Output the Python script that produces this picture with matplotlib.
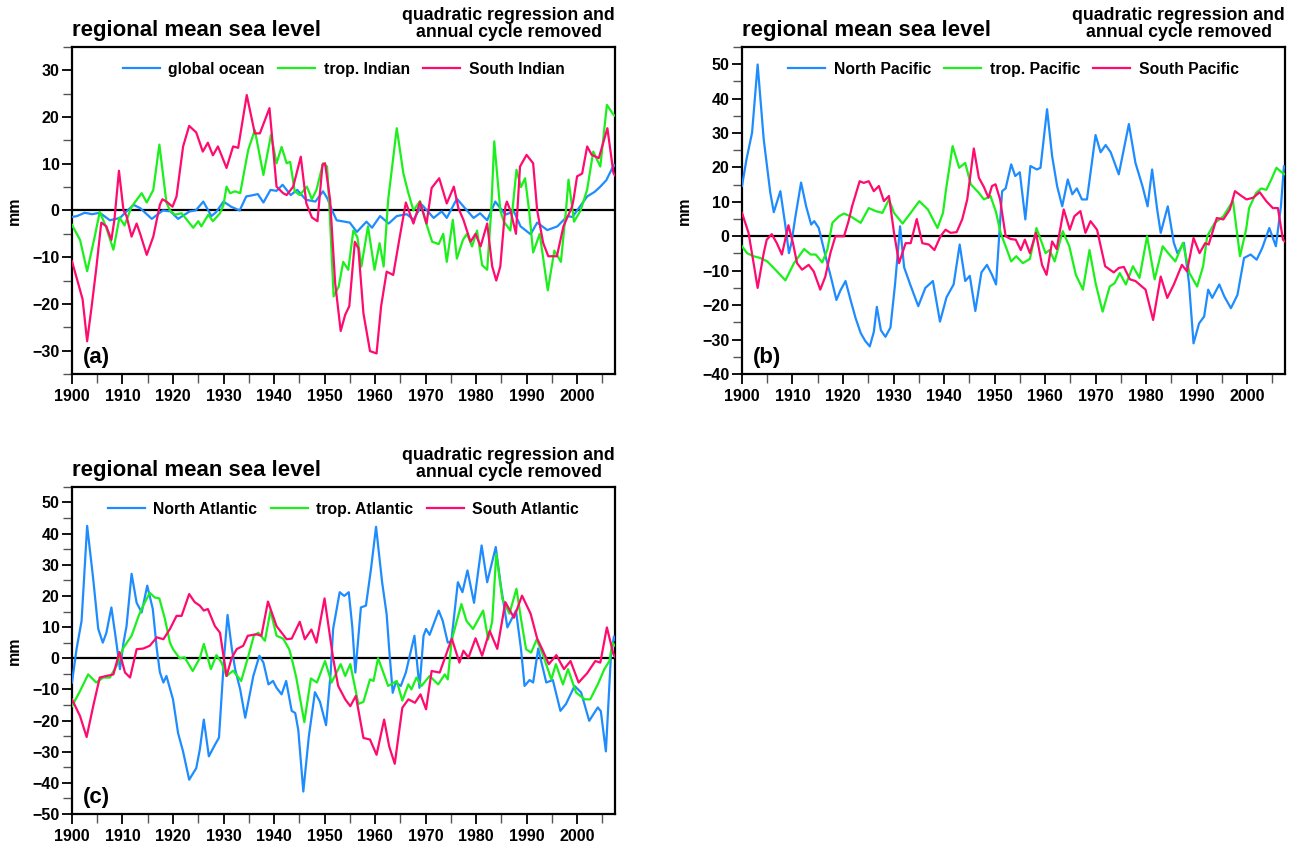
import matplotlib
matplotlib.use("Agg")
import matplotlib.pyplot as plt
from matplotlib.ticker import MultipleLocator

plt.rcParams["font.family"] = ["Liberation Sans", "DejaVu Sans"]
plt.rcParams["font.weight"] = "bold"

BLUE = "#1e8cff"
GREEN = "#1cf01c"
PINK = "#ff0a6e"

# ---------------------------------------------------------------- (a) Indian
ind_global_yr = [1900, 1901, 1902.5, 1904, 1905.5, 1907.5, 1909.5, 1911, 1912.2, 1913.5, 1915.8, 1918, 1919.5,
                 1921, 1923.3, 1924.5, 1926, 1927.6, 1928.5, 1930, 1931.5, 1933.2, 1934.5, 1935.5, 1936.8,
                 1937.9, 1939.3, 1940.5, 1941.7, 1943.3, 1944.6, 1946.3, 1948.2, 1949.7, 1950.6, 1951.5,
                 1952.4, 1955, 1956.4, 1958.3, 1959.4, 1961, 1962.7, 1964.3, 1966.3, 1967.6, 1969.3, 1971.6,
                 1973.2, 1974.2, 1976.2, 1977.8, 1979.5, 1980.8, 1982.2, 1983.8, 1985.8, 1987.5, 1988.8,
                 1990.8, 1992.1, 1994.1, 1996.1, 1998.1, 1999.1, 2000, 2002, 2003.5, 2004.6, 2005.8, 2007.3,
                 2007.5]
ind_global_mm = [-1.4, -1.2, -0.5, -0.8, -0.5, -2.1, -1.6, 0, 1.2, 0.5, -1.8, 0, -0.2,
                 -1.8, -0.2, 0, 1.9, -1.2, -0.4, 1.9, 0.8, 0, 3.0, 3.2, 3.5,
                 1.7, 4.4, 4.2, 5.5, 3.3, 4.4, 2.3, 1.9, 4.1, 2.5, 0,
                 -2.1, -2.6, -4.6, -2.4, -3.7, -1.2, -2.8, -1.2, -0.8, -2.0, 1.2, -1.6,
                 -0.2, -1.6, 2.5, 0.5, -1.6, -0.6, -2.1, 1.9, -0.9, -0.2, -3.4,
                 -5.1, -2.6, -4.2, -3.4, -1.2, -1.4, 0, 3.0, 4.0, 5.1, 6.5, 9.8,
                 9.5]

ind_trop_yr = [1900, 1901.6, 1903, 1904.5, 1905.5, 1906.7, 1908.2, 1909.4, 1910.4, 1911.8, 1913.8, 1914.8,
               1916.1, 1917.3, 1918.7, 1919.4, 1920.4, 1921.7, 1924, 1925, 1925.6, 1927, 1927.9, 1929.3,
               1930, 1930.6, 1931.3, 1932.3, 1933.3, 1934.9, 1936.2, 1937.9, 1939.4, 1940.5, 1941.5,
               1942.5, 1943.2, 1944.1, 1945.1, 1946.5, 1947.5, 1948.4, 1949.7, 1950.5, 1950.9, 1951.8,
               1952.8, 1953.7, 1954.7, 1955.7, 1956.5, 1957.3, 1958.6, 1959.9, 1960.9, 1961.7, 1962.6,
               1964.3, 1965.6, 1966.6, 1967.6, 1968.9, 1969.9, 1971.3, 1972.6, 1973.5, 1974.2, 1975.4,
               1976.2, 1977.4, 1978.2, 1979.2, 1980.2, 1981.2, 1982.2, 1983.0, 1983.6, 1984.8, 1985.5,
               1986.8, 1988.0, 1988.9, 1989.7, 1990.5, 1991.3, 1992.6, 1994.2, 1995.5, 1996.8, 1997.8,
               1998.3, 1999.4, 2000.7, 2002, 2003.2, 2004.6, 2005.9, 2007.2, 2007.5]
ind_trop_mm = [-3.1, -6.3, -13, -5.6, -0.3, -3.4, -8.4, -1.5, -3.2, 0.8, 3.7, 1.7,
               4.4, 14.1, 1.7, 0, -0.9, -0.6, -3.7, -2.3, -3.4, -0.9, -2.3, -0.6,
               1.2, 5.1, 3.7, 4.1, 3.7, 13, 17.2, 7.6, 16.2, 10.1, 13.6,
               10.1, 10.4, 4.1, 3.3, 5.1, 2.4, 4.4, 10.1, 9.4, 2.3, -18.4,
               -16.3, -11, -12.7, -4.3, -5.7, -12, -3.4, -12.7, -7, -12, 2.3,
               17.6, 8, 3.7, 0, 2.0, -2, -6.7, -7.2, -5, -11, -2,
               -10.3, -6.3, -5, -7.7, -4.3, -11.7, -12.7, 0, 14.8, 0, -2.4,
               -4.3, 8.7, 5.0, 6.9, 0, -9, -5, -17.1, -8.6, -11, 0,
               6.6, -2.4, 0, 4.5, 12.6, 9.4, 22.6, 20.5, 20.3]

ind_south_yr = [1900, 1901.2, 1902.1, 1903, 1903.9, 1904.8, 1905.8, 1906.8, 1907.8, 1908.4, 1909.3, 1910.2,
                1910.8, 1911.8, 1912.8, 1913.5, 1914.8, 1916.1, 1917.4, 1917.9, 1918.7, 1919.9, 1920.7,
                1922, 1923.2, 1924.6, 1925.9, 1926.9, 1927.9, 1928.9, 1930.6, 1931.9, 1932.9, 1934.6,
                1936.2, 1937.2, 1939.1, 1940.5, 1941.8, 1942.5, 1943.8, 1945.3, 1946.4, 1947.5, 1948.6,
                1949.6, 1950.1, 1951.1, 1952.1, 1953.2, 1954.1, 1954.9, 1956, 1956.7, 1957.7, 1959,
                1960.3, 1961.2, 1962.3, 1963.6, 1964.9, 1966.1, 1967.6, 1968.9, 1970.2, 1971.2, 1972.7,
                1974.2, 1975.6, 1976.5, 1977.5, 1978.9, 1979.9, 1980.9, 1982.2, 1983.2, 1984.0, 1984.8,
                1985.8, 1986.1, 1986.8, 1987.9, 1988.7, 1990, 1991.3, 1992.1, 1993.3, 1994.3, 1996,
                1997.3, 1999, 1999.3, 2000, 2001, 2002, 2002.9, 2004.3, 2006, 2007.2, 2007.5]
ind_south_mm = [-10.9, -15.5, -19, -28, -20.5, -12.5, -2.6, -3.4, -6.3, -2, 8.5, 0,
                -1.2, -5.6, -2.8, -5, -9.5, -5.6, 1.2, 2.4, 1.9, 0.8, 3.0,
                13.7, 18.1, 16.7, 12.6, 14.5, 11.8, 13.7, 9.1, 13.7, 13.4, 24.7,
                16.5, 16.5, 21.9, 5.1, 3.7, 3.3, 5.1, 11.5, 1.5, -1.5, -2.3,
                9.8, 10.1, 2.3, -15.5, -25.8, -22.3, -20.5, -6.7, -8.1, -22, -30.1,
                -30.6, -20.5, -13.1, -13.8, -5.6, 1.7, -2.8, 1.8, -2.8, 4.8, 6.9,
                1.5, 5.1, 0.5, -2, -6.7, -5, -7.7, -2.8, -12, -15, -12,
                0.8, 1.9, 0, -5, 9.4, 11.9, 10.1, 0, -7, -9.8, -9.8,
                -3.4, 0.8, 2.4, 7.3, 7.9, 13.7, 11.9, 11.2, 17.6, 8, 7.5]

# --------------------------------------------------------------- (b) Pacific
pac_north_yr = [1900, 1900.9, 1902, 1903.1, 1904.3, 1905.6, 1906.3, 1907.6, 1908.6, 1909.3, 1909.8, 1910.5,
                1911.7, 1912.7, 1913.7, 1914.3, 1915.2, 1916.5, 1917.8, 1918.7, 1919.5, 1920.5, 1921.5,
                1922.5, 1923.5, 1924.4, 1925.3, 1926.1, 1926.7, 1927.5, 1928.4, 1929.4, 1930.3, 1931.3,
                1932.1, 1933.3, 1934.9, 1936.3, 1937.8, 1939.2, 1940.5, 1941.9, 1943.1, 1944.2, 1945.1,
                1946.2, 1947.4, 1948.5, 1949.5, 1950.3, 1951.5, 1952.2, 1953.3, 1954.1, 1955, 1956.1,
                1957.1, 1958.4, 1959.1, 1960.4, 1961.4, 1962.4, 1963.4, 1964.5, 1965.4, 1966.3, 1967.3,
                1968.3, 1970, 1971, 1972, 1973, 1974.6, 1976.6, 1977.9, 1979.3, 1980.3, 1981.2, 1982.2,
                1982.9, 1984.3, 1985.5, 1986.2, 1987.5, 1988.5, 1989.4, 1990.5, 1991.5, 1992.3, 1993.1,
                1994.5, 1995.5, 1996.8, 1998.1, 1999.4, 2000.7, 2001.9, 2003, 2004.4, 2005.7, 2006.7,
                2007.3, 2007.5]
pac_north_mm = [14.6, 22.4, 30.1, 49.9, 28.2, 12.7, 7.0, 13.1, 3, -4.9, -1.9, 5,
                15.6, 8.7, 3.4, 4.4, 2.4, -5.5, -13, -18.5, -15.7, -13, -18.5,
                -23.8, -28.1, -30.4, -32, -27.8, -20.5, -27.3, -29.2, -26.5, -14, 2.9,
                -9, -14, -20.3, -15, -13, -24.8, -17.7, -14, -2.4, -13, -11.5,
                -21.7, -10.5, -8.3, -11.2, -14, 13.1, 13.9, 20.9, 17.5, 18.6, 4.9,
                20.4, 19.4, 19.9, 36.9, 23.3, 14.5, 8.7, 16.5, 12.2, 13.9, 10.7,
                10.7, 29.4, 24.4, 26.5, 24.4, 18, 32.6, 21.3, 14.5, 8.7, 19.4, 7.8,
                1, 8.7, -1.9, -4.9, -1.9, -13.6, -31.1, -25.3, -23.3, -15.5, -17.9,
                -14, -17.5, -20.9, -17, -6.3, -5.3, -6.8, -3.4, 2.4, -2.9, 8.7,
                20.4, 20]

pac_trop_yr = [1900, 1901, 1902.3, 1903.6, 1905, 1906.6, 1908.6, 1910.3, 1912.3, 1913.6, 1914.6, 1915.9,
               1916.9, 1917.9, 1919.2, 1920.2, 1921.5, 1923.5, 1925.1, 1926.5, 1927.8, 1929.1, 1930.1,
               1931.8, 1933.4, 1935.1, 1936.8, 1938.7, 1939.8, 1940.4, 1941.7, 1943, 1944.2, 1945.3,
               1946.9, 1947.9, 1949.2, 1950.3, 1951.2, 1952.2, 1953.3, 1954.3, 1955.6, 1957, 1958.3,
               1960.1, 1960.9, 1961.9, 1963.5, 1964.8, 1966.1, 1967.5, 1968.8, 1970, 1971.4, 1972.8,
               1973.8, 1974.8, 1976, 1977.4, 1978.7, 1980.2, 1981.7, 1983.3, 1984.6, 1985.8, 1987.3,
               1988.6, 1990.1, 1991.3, 1992.1, 1993.6, 1995.3, 1997.2, 1998.6, 1999.8, 2000.4, 2001.8,
               2002.8, 2003.8, 2004.8, 2005.8, 2007, 2007.5]
pac_trop_mm = [-2.9, -4.9, -5.8, -6.3, -7.3, -9.7, -12.8, -7.8, -3.7, -5.3, -5.3, -7.6,
               -3.9, 3.9, 5.8, 6.6, 5.8, 3.9, 8.2, 7.3, 6.8, 10.7, 6.8,
               3.7, 6.8, 10.2, 7.8, 2.4, 6.8, 13.6, 26.2, 19.9, 21.3, 15.1,
               12.6, 10.7, 11.7, 7, 1, -2.9, -7.3, -5.8, -7.8, -6.6, 2.4,
               -4.9, -4, -7.3, 1.5, -2.9, -11.2, -15.5, -4, -13.6, -21.9, -14.6,
               -13.6, -10.7, -14, -8.7, -12.1, 0, -12.5, -2.9, -5.3, -7.3, -1.9,
               -10.7, -14.6, -8.7, 0, 3.9, 5.8, 10.3, -5.8, 1.9, 8.2, 12.6,
               13.9, 13.5, 16.5, 19.9, 18.4, 18]

pac_south_yr = [1900, 1901.3, 1902.3, 1903.1, 1904.3, 1904.9, 1905.9, 1906.9, 1907.9, 1909.2, 1910.1, 1910.9,
                1911.9, 1913.2, 1914.2, 1915.5, 1916.5, 1917.5, 1918.5, 1920.2, 1921.1, 1921.8, 1923.3,
                1924.1, 1925.1, 1926.1, 1927.1, 1928.1, 1929.1, 1930.1, 1931.1, 1932.4, 1933.4, 1934.6,
                1935.7, 1937, 1938.1, 1939.3, 1940.3, 1941.3, 1942.5, 1943.6, 1944.6, 1945.9, 1946.9,
                1947.9, 1948.8, 1949.5, 1950.2, 1951.1, 1952.2, 1953.2, 1954.2, 1955.2, 1956, 1957,
                1958.2, 1959.4, 1960.3, 1961.4, 1962.3, 1963.7, 1964.9, 1965.8, 1967, 1968, 1969, 1970.3,
                1971.9, 1973.6, 1974.6, 1975.6, 1976.8, 1977.9, 1979.9, 1981.4, 1982.9, 1984.2, 1985.5,
                1987.1, 1988.1, 1989.4, 1990.6, 1991.7, 1992.4, 1994, 1995.3, 1996.6, 1997.6, 1998.9,
                1999.9, 2001.2, 2002.5, 2003.8, 2005.1, 2006.1, 2007.1, 2007.5]
pac_south_mm = [6.8, 1, -7.8, -15, -4.9, -1, 0.6, -2, -5.3, 3.2, -2, -7.8,
                -9.7, -8.3, -10.2, -15.5, -11.7, -4.9, 0, 0, 4.4, 8.7, 16,
                15.5, 16, 13.1, 14.6, 10.2, 11.7, 1, -7.8, -2, -2, 5,
                -2, -2.4, -4, 0, 1.9, 1, 1.2, 4.9, 10.7, 25.5, 17,
                14.3, 11.2, 14.6, 15.1, 10.7, 0, -0.8, -1, -4, -1, -4.9,
                1, -8.3, -11.2, -1.5, -3.7, 7.8, 1.9, 5.8, 7.3, 1, 4.4, 1.9,
                -8.7, -10.5, -9.2, -8.9, -12.5, -13, -15.5, -24.3, -11.7, -17.9, -14,
                -8.3, -10.2, -0.5, -4.9, -2, -2.4, 5.3, 4.9, 7.8, 13.1, 11.7,
                10.7, 11.2, 12.8, 10.2, 8.2, 8.2, -1, -1.5]

# -------------------------------------------------------------- (c) Atlantic
atl_north_yr = [1900, 1900.9, 1901.9, 1903, 1904.2, 1905.2, 1906.1, 1906.8, 1907.8, 1908.7, 1909.5, 1910.2,
                1910.8, 1911.8, 1912.8, 1913.8, 1914.9, 1916, 1916.8, 1917.4, 1918.1, 1918.7, 1920, 1921,
                1922, 1923.2, 1924.6, 1925.3, 1926.1, 1927.1, 1928.3, 1929.1, 1930.1, 1930.8, 1931.6,
                1932.3, 1933.3, 1934.3, 1935.9, 1937.1, 1937.9, 1938.9, 1939.8, 1940.5, 1941.5, 1942.4,
                1943.5, 1944.2, 1944.8, 1945.8, 1946.9, 1948.1, 1949.1, 1950.3, 1951.2, 1951.7, 1953,
                1953.9, 1954.8, 1955.5, 1956.1, 1957.2, 1958.2, 1959.2, 1960.2, 1961.4, 1962.3, 1962.8,
                1963.5, 1964.1, 1965.1, 1966.1, 1967.1, 1967.8, 1968.8, 1969.6, 1970.1, 1970.8, 1972.6,
                1973.4, 1974.4, 1975.1, 1976.4, 1977.3, 1978.3, 1979.6, 1981.1, 1982.2, 1983.9, 1984.9,
                1986.2, 1987.9, 1988.9, 1989.6, 1990.6, 1991.3, 1992.3, 1993.9, 1995.2, 1996.7, 1997.8,
                1999.5, 2000.8, 2002.4, 2004.1, 2004.7, 2005.7, 2006.7, 2007.3, 2007.5]
atl_north_mm = [-7.8, 2.9, 12, 42.5, 25.5, 9.4, 5, 8.1, 16.3, 6.1, -3.5, 5,
                10.3, 27.1, 17.8, 14.7, 23.3, 15.8, 2.9, -4.5, -7.8, -5.7, -13.2, -24,
                -30, -39, -35.3, -29.4, -19.7, -31.5, -27.8, -25.5, 0, 13.9, 3.6,
                -3.5, -10, -19.1, -5.7, 0.8, -1.4, -8.4, -7.3, -9.5, -11.6, -7.3,
                -16.9, -17.6, -23, -42.8, -25, -10.9, -14, -21.5, -5, 9.4, 21.2,
                20, 21.2, 10, -4.6, 16.3, 16.9, 28.7, 42.2, 24.4, 14.1, 2.9,
                -11.1, -7.8, -8.9, -4.6, 2.4, 7.2, -9.5, 7.2, 9.4, 7.5, 15.3,
                12, 5, 5.5, 24.4, 21.2, 28.2, 17.8, 36.2, 24.4, 35.7, 23.3,
                9.9, 15.3, 2.9, -8.9, -7, -7.8, 3.1, -7.8, -7, -16.9, -14.7,
                -8.9, -11, -20.1, -15.8, -17, -29.9, 0.8, 7, 6]

atl_trop_yr = [1900, 1901.6, 1903.2, 1904.8, 1906.2, 1907.5, 1908.8, 1910.2, 1911.8, 1913.2, 1914.1, 1915.4,
               1916.4, 1917.3, 1918.4, 1919.4, 1920, 1921.3, 1922.3, 1923.9, 1925.3, 1926.1, 1927.5,
               1928.6, 1929.6, 1930.6, 1931.9, 1933.5, 1934.8, 1936, 1936.9, 1938.2, 1939.3, 1940.5,
               1941.8, 1943, 1943.5, 1944.4, 1946, 1947.3, 1948.5, 1950.1, 1951.4, 1953.2, 1954.1,
               1955.1, 1956.7, 1957.7, 1959, 1959.7, 1960.6, 1962.6, 1964.3, 1965.4, 1966.6, 1967.2,
               1968.2, 1969.2, 1970.8, 1972.5, 1973.8, 1974.4, 1975.1, 1975.4, 1977.1, 1978.1, 1979.4,
               1981.4, 1982.4, 1983.2, 1984, 1985.2, 1986.6, 1988, 1988.9, 1989.9, 1990.9, 1992, 1993.2,
               1994.9, 1995.8, 1997.2, 1998.2, 1999.8, 2001.5, 2002.6, 2004.1, 2005.4, 2006.4, 2007,
               2007.5]
atl_trop_mm = [-15.4, -10.5, -5.2, -7.8, -6.2, -6.2, -2.5, 3.4, 7.2, 13.6, 16.9, 21,
               19.5, 19.2, 12.6, 5, 2.9, 0, 0.3, -4.1, 0, 4.6, -3.5,
               1, -1.4, -5.7, -4, -7.3, 0, 7.2, 8.2, 5.6, 15.3, 7.2,
               6.3, 2.9, 0, -6.2, -20.5, -6.5, -7.8, -0.9, -7.8, -1.9, -5.7,
               -1.9, -14.7, -14, -6.8, -7.3, 0, -8.9, -7.3, -13.6, -8.4, -10,
               -6.2, -8.9, -5.7, -8.4, -5.2, -6.8, 4.5, 7.2, 17.4, 12, 9.4,
               15.3, 6, 12, 33.5, 19.1, 14.3, 22.3, 12.6, 2.9, 1.8, 6, 1.3,
               -6.8, -1.9, -8.4, -3.5, -11, -13.2, -13.2, -8.4, -3.5, -0.9, 5,
               4]

atl_south_yr = [1900, 1901.6, 1902.9, 1904.2, 1905.5, 1906.8, 1908.2, 1909.4, 1910.5, 1911.5, 1912.8, 1914.1,
                1915.4, 1916.8, 1918.1, 1919.4, 1920.7, 1921.7, 1923.2, 1924.3, 1925.3, 1926.1, 1926.9,
                1928.3, 1929.3, 1930.6, 1931.6, 1932.6, 1933.9, 1934.8, 1936.5, 1937.5, 1938.8, 1940.5,
                1941.5, 1942.5, 1943.5, 1945.1, 1946.1, 1947.4, 1948.4, 1950, 1951.7, 1952.7, 1954.1,
                1955.1, 1956.2, 1957.7, 1959, 1960.3, 1961.8, 1962.8, 1963.9, 1965.4, 1966.6, 1967.9,
                1969, 1970.1, 1971.2, 1972.8, 1974.2, 1975.2, 1976.7, 1977.5, 1978.5, 1979.9, 1981.2,
                1982.7, 1984.2, 1985.8, 1987.5, 1989.1, 1990.8, 1992.1, 1993.1, 1994.4, 1995.9, 1997.4,
                1998.7, 2000.3, 2002, 2003.6, 2004.6, 2005.9, 2007.2, 2007.5]
atl_south_mm = [-13.2, -18.6, -25.3, -15.4, -6.2, -5.7, -5.2, 2, -4.6, -6.2, 2.9, 3.1,
                4, 6.7, 6.1, 9.4, 13.6, 13.6, 20.6, 18, 16.9, 15.3, 15.8,
                10.3, 8.2, -5.7, 0, 2.9, 4, 7.2, 7.7, 7.2, 18.2, 10.3,
                8.2, 6.1, 6.3, 11.7, 6.1, 9.2, 5, 19.2, 0, -8.9, -13.2,
                -15.4, -12.1, -25.6, -26.1, -31, -19.7, -28.3, -33.9, -15.9, -13.2, -14.3,
                -11.6, -16.4, -4.1, -4.6, 1.8, 6.3, -1.4, 2.4, 0.2, 6.4, 0.8,
                8.8, 3, 18, 13, 20.1, 14.3, 6.3, 2.9, -1.9, 1, -3.5,
                -0.9, -7.8, -4.8, -0.9, -1.4, 9.9, 1.3, 0.5]

TITLE = "regional mean sea level"
SUBTITLE = "quadratic regression and\nannual cycle removed"

panels = [
    dict(rect=[0.0552, 0.5626, 0.4164, 0.3825], ylim=(-35, 35), yticks=range(-30, 31, 10), tag="(a)",
         series=[("global ocean", ind_global_yr, ind_global_mm, BLUE),
                 ("trop. Indian", ind_trop_yr, ind_trop_mm, GREEN),
                 ("South Indian", ind_south_yr, ind_south_mm, PINK)]),
    dict(rect=[0.5690, 0.5626, 0.4164, 0.3825], ylim=(-40, 55), yticks=range(-40, 51, 10), tag="(b)",
         series=[("North Pacific", pac_north_yr, pac_north_mm, BLUE),
                 ("trop. Pacific", pac_trop_yr, pac_trop_mm, GREEN),
                 ("South Pacific", pac_south_yr, pac_south_mm, PINK)]),
    dict(rect=[0.0552, 0.0480, 0.4164, 0.3825], ylim=(-50, 55), yticks=range(-50, 51, 10), tag="(c)",
         series=[("North Atlantic", atl_north_yr, atl_north_mm, BLUE),
                 ("trop. Atlantic", atl_trop_yr, atl_trop_mm, GREEN),
                 ("South Atlantic", atl_south_yr, atl_south_mm, PINK)]),
]

fig = plt.figure(figsize=(13.04, 8.55), dpi=100)

for p in panels:
    ax = fig.add_axes(p["rect"])
    handles = []
    for name, yr, mm, col in p["series"]:
        h, = ax.plot(yr, mm, color=col, lw=1.6, label=name, zorder=3,
                     solid_joinstyle="round")
        handles.append(h)
    ax.axhline(0, color="black", lw=1.6, zorder=2)

    ax.set_xlim(1900, 2007.5)
    ax.set_ylim(*p["ylim"])
    ax.set_xticks(range(1900, 2001, 10))
    ax.xaxis.set_minor_locator(MultipleLocator(5))
    ax.set_yticks(list(p["yticks"]))
    ax.yaxis.set_minor_locator(MultipleLocator(5))
    ax.tick_params(which="major", direction="out", length=7.5, width=1.3,
                   labelsize=11.5, top=False, right=False)
    ax.tick_params(axis="x", which="major", pad=3.5)
    ax.tick_params(axis="y", which="major", pad=1.5)
    ax.tick_params(which="minor", direction="out", length=6.5, width=1.0,
                   color="#555555", top=False, right=False)
    for s in ax.spines.values():
        s.set_linewidth(1.6)

    ax.set_ylabel("mm", fontsize=11.5, fontweight="bold")
    ax.yaxis.set_label_coords(-0.093, 0.5)

    ax.legend(handles=handles, loc="upper center", ncol=3, frameon=False,
              fontsize=11.3, handlelength=2.35, handletextpad=0.55,
              columnspacing=0.85, borderaxespad=0.55)

    ax.annotate(TITLE, xy=(0, 1), xycoords="axes fraction", xytext=(0, 8),
                textcoords="offset points", ha="left", va="baseline",
                fontsize=16, fontweight="bold")
    ax.annotate(SUBTITLE, xy=(1, 1), xycoords="axes fraction", xytext=(0, 4),
                textcoords="offset points", ha="right", va="bottom",
                multialignment="center", fontsize=12.8, fontweight="bold",
                linespacing=1.0)
    ax.text(0.0197, 0.034, p["tag"], transform=ax.transAxes, ha="left",
            va="baseline", fontsize=16, fontweight="bold")

fig.savefig("out.png", dpi=100)
